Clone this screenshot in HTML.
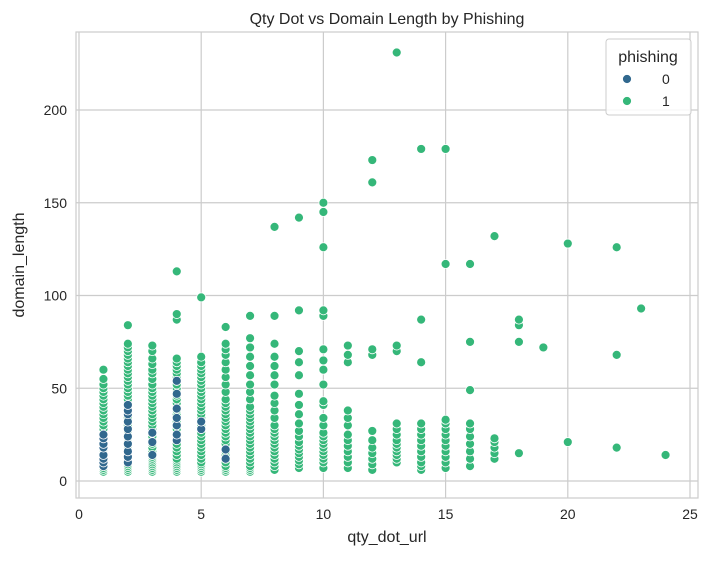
<!DOCTYPE html>
<html><head><meta charset="utf-8"><style>
body{margin:0;background:#fff;}
svg text{font-family:"Liberation Sans","DejaVu Sans",sans-serif;fill:#262626;}
</style></head><body>
<svg id="chart" width="711" height="556" xmlns="http://www.w3.org/2000/svg">
<rect x="0" y="0" width="711" height="556" fill="#fff"/>
<g id="grid"></g>
<rect x="76" y="32" width="622" height="466" fill="none" stroke="#cccccc" stroke-width="1.2"/>
<g id="pts"></g>
<g id="ticks"></g>
<text x="387" y="24" font-size="16" text-anchor="middle">Qty Dot vs Domain Length by Phishing</text>
<text x="387" y="542" font-size="16" text-anchor="middle">qty_dot_url</text>
<text x="24" y="265" font-size="16" text-anchor="middle" transform="rotate(-90 24 265)">domain_length</text>
<g>
<rect x="606" y="39" width="85" height="76" rx="3" fill="#fff" fill-opacity="0.85" stroke="#cccccc"/>
<text x="648" y="62" font-size="16" text-anchor="middle">phishing</text>
<circle cx="627" cy="79" r="4.5" fill="#31688e" stroke="#fff" stroke-width="0.8"/>
<text x="662" y="84" font-size="14">0</text>
<circle cx="627" cy="101" r="4.5" fill="#35b779" stroke="#fff" stroke-width="0.8"/>
<text x="662" y="106" font-size="14">1</text>
</g>
</svg>
<script>
const xTicks=[0,5,10,15,20,25];
const yTicks=[0,50,100,150,200];
const phishX1=[1,2,3,4,5,6,7,8,9,10,11,12,13,14,15,16,17,18,19,20,22,23,24];
const phishY1=[
[5,6,7,8,9,10,11,12,13,14,15,16,17,18,19,20,22,24,26,28,30,32,34,36,38,40,42,44,46,48,50,52,55,60],
[5,6,7,8,9,10,11,12,13,14,15,16,17,18,19,20,21,22,23,24,25,26,27,28,30,32,34,36,38,40,42,44,46,48,50,52,54,56,58,60,62,64,66,68,70,72,74,84],
[5,6,7,8,9,10,11,12,13,14,16,18,20,22,24,26,28,30,32,34,36,38,40,42,44,46,48,50,52,55,58,60,63,66,70,73],
[5,6,7,8,9,10,11,12,14,16,18,20,22,24,26,28,30,32,34,36,38,40,42,44,46,48,50,52,54,56,58,60,62,64,66,87,90,113],
[5,6,7,8,9,10,12,14,16,18,20,22,24,26,28,30,32,34,36,38,40,42,44,46,48,50,52,54,56,58,60,62,64,67,99],
[5,6,7,8,10,12,14,16,18,20,22,24,26,28,30,32,34,36,38,40,42,44,48,52,56,60,64,68,71,74,83],
[5,6,7,8,10,12,14,16,18,20,22,24,26,28,30,32,34,36,38,40,44,48,52,57,62,67,72,77,89],
[6,8,10,12,14,16,18,20,22,24,26,28,30,34,38,42,46,52,57,62,67,74,89,137],
[7,9,11,13,15,17,19,21,24,27,31,36,41,47,57,64,70,92,142],
[7,10,12,14,16,18,20,22,24,26,30,34,41,43,52,60,65,71,89,92,126,145,150],
[7,10,13,16,19,22,25,30,34,38,64,68,73],
[6,9,12,15,18,22,27,68,71,161,173],
[10,12,14,16,18,20,22,25,28,31,70,73,231],
[6,8,10,13,16,19,22,25,28,31,64,87,179],
[7,10,13,16,19,22,25,28,31,33,117,179],
[8,12,16,20,24,28,31,49,75,117],
[12,15,18,21,23,132],
[15,75,84,87],
[72],
[21,128],
[18,68,126],
[93],
[14]];
const phishX0=[1,2,3,4,5,6];
const phishY0=[[8,10,12,14,18,20,23,25],[10,13,16,20,24,28,32,36,38,41],[14,21,26],[22,25,30,34,39,47,54],[28,32],[12,17]];
const NS="http://www.w3.org/2000/svg";
const sx=v=>79+v*(611/25);
const sy=v=>481-v*(371/200);
const grid=document.getElementById('grid'),ticks=document.getElementById('ticks'),pts=document.getElementById('pts');
function mk(t,a,p){const e=document.createElementNS(NS,t);for(const k in a)e.setAttribute(k,a[k]);p.appendChild(e);return e;}
xTicks.forEach(v=>{
 const l=mk('line',{x1:sx(v),x2:sx(v),y1:32,y2:498,stroke:'#cccccc','stroke-width':1.2},grid);
 
 
 const t=mk('text',{x:sx(v),y:519,'font-size':14,'text-anchor':'middle'},ticks);t.textContent=v;
 
 
});
yTicks.forEach(v=>{
 const l=mk('line',{x1:76,x2:698,y1:sy(v),y2:sy(v),stroke:'#cccccc','stroke-width':1.2},grid);
 
 
 const t=mk('text',{x:67,y:sy(v)+5,'font-size':14,'text-anchor':'end'},ticks);t.textContent=v;
 
 
});
function draw(xs,ys,color,name){
 xs.forEach((x,i)=>ys[i].forEach(y=>{
  const c=mk('circle',{cx:sx(x),cy:sy(y),r:4.5,fill:color,stroke:'#fff','stroke-width':0.8},pts);
  
  
 }));
}
draw(phishX1,phishY1,'#35b779','point-phishing-1');
draw(phishX0,phishY0,'#31688e','point-phishing-0');
</script>
</body></html>
